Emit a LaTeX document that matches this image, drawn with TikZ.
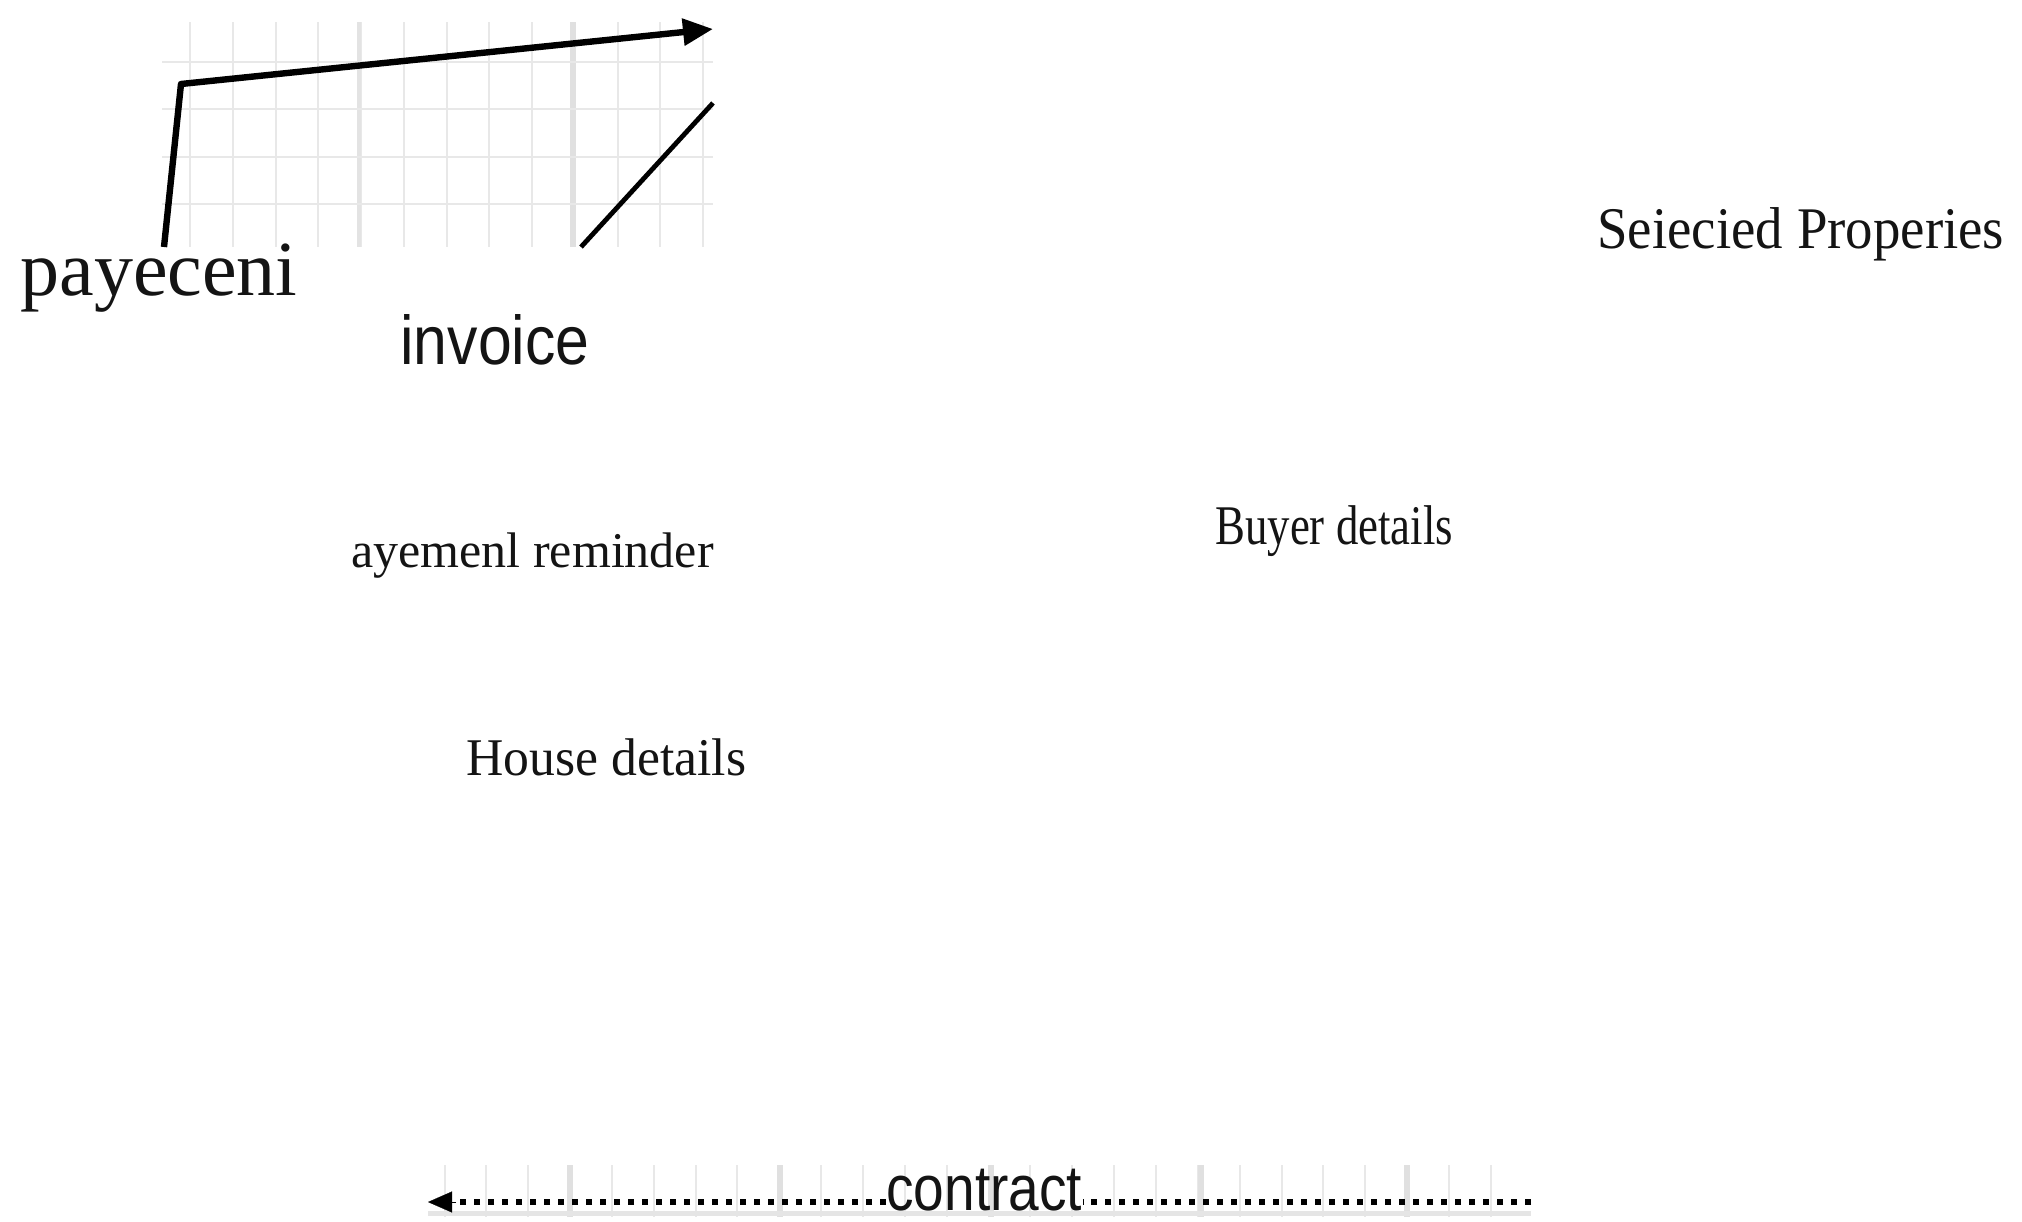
\documentclass[tikz,border=0pt]{standalone}
\usepackage{fontspec}
\usetikzlibrary{arrows.meta}
\setmainfont{Liberation Serif}
\newfontfamily\serifP{Liberation Serif}
\newfontfamily\serifS[FakeStretch=0.93]{Liberation Serif}
\newfontfamily\serifB[FakeStretch=0.8]{Liberation Serif}
\newfontfamily\serifH[FakeStretch=0.975]{Liberation Serif}
\newfontfamily\sansI[FakeStretch=0.88]{Liberation Sans}
\newfontfamily\sansC[FakeStretch=0.86]{Liberation Sans}
\tikzset{
  lbl/.style={inner sep=0pt, anchor=base west, text=black!92},
  minorgrid/.style={draw=black!9, line width=1pt},
  midgrid/.style={draw=black!11, line width=1.6pt},
  majorgrid/.style={draw=black!12, line width=3pt},
  heavy/.style={draw=black, line width=3.2pt, line join=round},
  thin/.style={draw=black, line width=2.4pt},
  dotline/.style={draw=black, line width=3pt, dash pattern=on 3pt off 4pt}
}
\begin{document}
\begin{tikzpicture}[x=0.5pt, y=-0.5pt]
\useasboundingbox[fill=white] (0,0) rectangle (2022,1221);

% ---- top-left grid snippet ----
\foreach \k in {0,...,12} {
  \pgfmathsetmacro{\xx}{190+42.75*\k}
  \draw[minorgrid] (\xx,22) -- (\xx,247);
}
\draw[midgrid] (359,22) -- (359,247);
\draw[majorgrid] (573,22) -- (573,247);
\foreach \yy in {62,109,157,204} {
  \draw[minorgrid] (162,\yy) -- (713,\yy);
}
\coordinate (pa) at (164,247);
\coordinate (pb) at (181,84);
\coordinate (pc) at (713,29);
\draw[heavy, -{Triangle[length=15pt,width=13pt]}] (pa) -- (pb) -- (pc);
\coordinate (qa) at (581,247);
\coordinate (qb) at (713,103);
\draw[thin] (qa) -- (qb);

% ---- labels ----
\node[lbl, font=\serifP\fontsize{39pt}{43pt}\selectfont] (payeceni) at (20,295) {payeceni};
\node[lbl, font=\sansI\fontsize{34.5pt}{38pt}\selectfont] (invoice) at (400,364) {invoice};
\node[lbl, font=\serifS\fontsize{29.5pt}{33pt}\selectfont] (selected) at (1597,248) {Seiecied Properies};
\node[lbl, font=\serifB\fontsize{28pt}{31pt}\selectfont] (buyer) at (1215,544) {Buyer details};
\node[lbl, font=\serifP\fontsize{25pt}{28pt}\selectfont] (reminder) at (351,567) {ayemenl reminder};
\node[lbl, font=\serifH\fontsize{26.5pt}{30pt}\selectfont] (house) at (466,775) {House details};

% ---- bottom contract strip ----
\foreach \k in {0,...,25} {
  \pgfmathsetmacro{\xx}{444.5+41.85*\k}
  \draw[minorgrid] (\xx,1165) -- (\xx,1217);
}
\foreach \xx in {570,780,991,1201,1407} {
  \draw[majorgrid] (\xx,1165) -- (\xx,1217);
}
\draw[draw=black!10, line width=2.5pt] (428,1213) -- (1531,1213);
\node[lbl, font=\sansC\fontsize{32pt}{35pt}\selectfont] (contract) at (886,1210) {contract};
\coordinate (cl) at (428,1202);
\coordinate (cr) at (1531,1202);
\coordinate (ch) at (456,1202);
\draw[dotline] (cr) -- (contract.east |- cr);
\draw[dotline] (contract.west |- cl) -- (ch);
\draw[draw=black, line width=0.1pt, -{Triangle[length=12pt,width=10.5pt]}] (ch) -- (cl);
\end{tikzpicture}
\end{document}
